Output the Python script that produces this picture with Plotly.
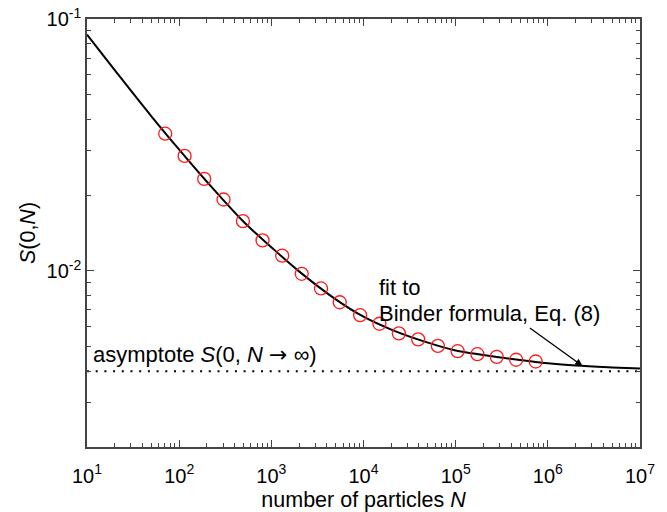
import math
import plotly.graph_objects as go

# ---- data ----
marker_N = [70.6, 114.5, 187, 303, 492, 803, 1312, 2137, 3460, 5520,
            9200, 14900, 24200, 39200, 64100, 105000, 172000, 279000, 453000, 738000]
marker_S = [0.03505, 0.02861, 0.02319, 0.01921, 0.01576, 0.01322, 0.01150, 0.00974, 0.00852, 0.00751,
            0.00667, 0.00617, 0.00565, 0.00535, 0.00504, 0.00480, 0.00467, 0.00456, 0.00444, 0.00437]

fit_N = [1e1, 2e1, 5e1, 1e2, 2e2, 5e2, 1e3, 2e3, 5e3, 1e4, 2e4, 5e4,
         1e5, 2e5, 5e5, 1e6, 2e6, 5e6, 1e7]
fit_S = [0.0867, 0.0627, 0.0411, 0.0303, 0.02259, 0.01567, 0.01242, 0.00996, 0.00771, 0.00658,
         0.00585, 0.00519, 0.00483, 0.00464, 0.00443, 0.00430, 0.00421, 0.00414, 0.00410]

asymptote_S = 0.004

x_tick_vals = [1e1, 1e2, 1e3, 1e4, 1e5, 1e6, 1e7]
x_tick_text = ["10<sup>1</sup>", "10<sup>2</sup>", "10<sup>3</sup>", "10<sup>4</sup>",
               "10<sup>5</sup>", "10<sup>6</sup>", "10<sup>7</sup>"]
y_tick_vals = [0.01, 0.1]
y_tick_text = ["10<sup>-2</sup>", "10<sup>-1</sup>"]

arrow_N = 2.37e6
arrow_S = 0.00420

FONT = "Liberation Sans, Arial, sans-serif"
AX = "#444444"

x_minor = [m * 10 ** e for e in range(1, 7) for m in range(2, 10)]
y_minor = [m * 10 ** e for e in (-3, -2) for m in range(2, 10) if m * 10 ** e >= 0.002]

fig = go.Figure()
fig.add_trace(go.Scatter(x=[1e1, 1e7], y=[asymptote_S, asymptote_S], mode="lines",
                         line=dict(color="black", width=2, dash="2px,6.7px"),
                         showlegend=False, hoverinfo="skip"))
fig.add_trace(go.Scatter(x=fit_N, y=fit_S, mode="lines",
                         line=dict(color="black", width=2, shape="spline"),
                         showlegend=False))
fig.add_trace(go.Scatter(x=marker_N, y=marker_S, mode="markers",
                         marker=dict(symbol="circle-open", size=13, color="#ff1a1a",
                                     line=dict(width=1.3, color="#ff1a1a")),
                         showlegend=False))

common = dict(showline=True, linecolor=AX, linewidth=1.5, mirror="allticks",
              ticks="inside", ticklen=7, tickwidth=1.2, tickcolor=AX,
              showgrid=False, zeroline=False, automargin=False,
              tickfont=dict(family=FONT, size=20, color="black"))

fig.update_xaxes(type="log", range=[1, 7], tickmode="array",
                 tickvals=x_tick_vals, ticktext=x_tick_text, ticklabelstandoff=10,
                 minor=dict(tickmode="array", tickvals=x_minor, ticks="inside",
                            ticklen=4, tickwidth=1, tickcolor=AX, showgrid=False),
                 title=dict(text="number of particles <i>N</i>",
                            font=dict(family=FONT, size=21.5, color="black"), standoff=20),
                 **common)
fig.update_yaxes(type="log", range=[-2.69897, -1], tickmode="array",
                 tickvals=y_tick_vals, ticktext=y_tick_text,
                 minor=dict(tickmode="array", tickvals=y_minor,
                            ticks="inside", ticklen=4, tickwidth=1, tickcolor=AX, showgrid=False),
                 title=dict(text="<i>S</i>(0,<i>N</i>)",
                            font=dict(family=FONT, size=21.5, color="black"), standoff=5),
                 **common)

# text annotations (log axes: positions in log10 units)
text_x = math.log10(1.4e4)
fig.add_annotation(x=text_x, y=-2.0 - (288 - 271) / 251.7, xref="x", yref="y",
                   text="fit to", showarrow=False, xanchor="left", yanchor="middle",
                   font=dict(family=FONT, size=22, color="black"))
fig.add_annotation(x=text_x, y=-2.0 - (314 - 271) / 251.7, xref="x", yref="y",
                   text="Binder formula, Eq. (8)", showarrow=False, xanchor="left", yanchor="middle",
                   font=dict(family=FONT, size=22, color="black"))
fig.add_annotation(x=math.log10(arrow_N), y=math.log10(arrow_S), xref="x", yref="y",
                   text="", showarrow=True, ax=-54, ay=-39, arrowhead=2, arrowsize=1.1,
                   arrowwidth=1.3, arrowcolor="black", standoff=0)
fig.add_annotation(x=math.log10(11), y=-2.0 - (355 - 271) / 251.7, xref="x", yref="y",
                   text="asymptote <i>S</i>(0, <i>N</i> <span style='font-family:DejaVu Sans'>→</span> ∞)",
                   showarrow=False, xanchor="left", yanchor="middle",
                   font=dict(family=FONT, size=22, color="black"))

fig.update_layout(width=667, height=512, margin=dict(l=87, r=27, t=19, b=65),
                  plot_bgcolor="white", paper_bgcolor="white",
                  font=dict(family=FONT, color="black"))
fig.write_html("out.html", config={"displayModeBar": False},
               post_script="document.body.style.margin='0px';")
